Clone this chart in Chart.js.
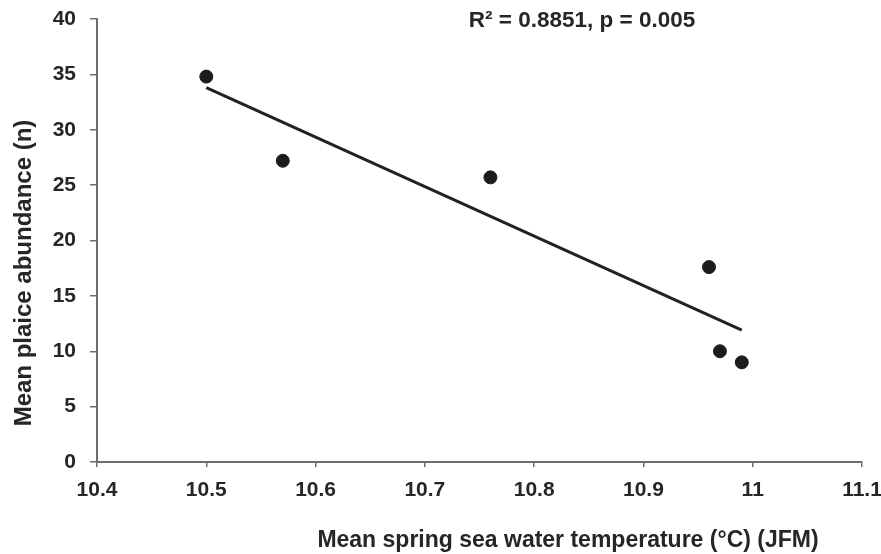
<!DOCTYPE html>
<html>
<head>
<meta charset="utf-8">
<script src="https://cdn.jsdelivr.net/npm/chart.js@4.4.0/dist/chart.umd.min.js"></script>
<style>
  html, body { margin: 0; padding: 0; background: #fff; }
  #wrap { width: 881px; height: 554px; position: relative; }
</style>
</head>
<body>
<div id="wrap"><canvas id="chart"></canvas></div>
<script>
// Дані з графіка
const temps = [10.5, 10.57, 10.76, 10.96, 10.97, 10.99];
const abundance = [34.8, 27.2, 25.7, 17.6, 10.0, 9.0];

// Лінія тренду (кінці)
const trendX = [10.5, 10.99];
const trendY = [33.8, 11.9];

const xTicks = [10.4, 10.5, 10.6, 10.7, 10.8, 10.9, 11.0, 11.1];
const yTicks = [0, 5, 10, 15, 20, 25, 30, 35, 40];

const xTitle = 'Mean spring sea water temperature (°C) (JFM)';
const yTitle = 'Mean plaice abundance (n)';
const statsText = 'R² = 0.8851, p = 0.005';

const FONT = '"Liberation Sans", Arial, sans-serif';
const TEXT = '#262626';
const AXIS = '#6e6e6e';

// Підписи осей та R² малюємо самі
const labelsPlugin = {
    id: 'labels',
    afterDraw(chart) {
        const c = chart.ctx;
        c.save();
        c.fillStyle = TEXT;
        c.textAlign = 'center';
        c.textBaseline = 'alphabetic';
        c.font = 'bold 23px ' + FONT;
        c.fillText(xTitle, 568, 547);

        c.save();
        c.translate(31, 273);
        c.rotate(-Math.PI / 2);
        c.font = 'bold 24px ' + FONT;
        c.fillText(yTitle, 0, 0);
        c.restore();

        c.font = 'bold 22.5px ' + FONT;
        c.fillText(statsText, 582, 27);
        c.restore();
    }
};

new Chart(document.getElementById('chart'), {
    type: 'scatter',
    data: {
        datasets: [
            {
                label: 'Abundance',
                data: temps.map((t, i) => ({ x: t, y: abundance[i] })),
                backgroundColor: '#1c1c1c',
                borderColor: '#1c1c1c',
                pointRadius: 6.5,
                pointHoverRadius: 6.5
            },
            {
                label: 'Trend',
                type: 'line',
                data: trendX.map((t, i) => ({ x: t, y: trendY[i] })),
                borderColor: '#222',
                borderWidth: 3,
                pointRadius: 0,
                fill: false
            }
        ]
    },
    options: {
        responsive: true,
        maintainAspectRatio: false,
        animation: false,
        layout: { padding: { top: 19, right: 19, left: 0, bottom: 0 } },
        plugins: {
            legend: { display: false },
            tooltip: { enabled: false }
        },
        scales: {
            x: {
                type: 'linear',
                min: 10.4,
                max: 11.1,
                afterBuildTicks: s => { s.ticks = xTicks.map(v => ({ value: v })); },
                afterFit: s => {
                    s.height = 92;
                    s.paddingLeft = 0;
                    s.paddingRight = 0;
                },
                grid: { drawOnChartArea: false, tickLength: 5, color: AXIS, lineWidth: 1.5 },
                border: { color: AXIS, width: 2 },
                ticks: {
                    color: TEXT,
                    padding: 11,
                    maxRotation: 0,
                    font: { family: FONT, size: 21, weight: 'bold' },
                    callback: v => Number(v.toFixed(1)).toString()
                }
            },
            y: {
                min: 0,
                max: 40,
                afterBuildTicks: s => { s.ticks = yTicks.map(v => ({ value: v })); },
                afterFit: s => {
                    s.width = 97;
                    s.paddingTop = 0;
                    s.paddingBottom = 0;
                },
                grid: { drawOnChartArea: false, tickLength: 7, color: AXIS, lineWidth: 1.5 },
                border: { color: AXIS, width: 2 },
                ticks: {
                    color: TEXT,
                    padding: 14,
                    font: { family: FONT, size: 21, weight: 'bold' }
                }
            }
        }
    },
    plugins: [labelsPlugin]
});
</script>
</body>
</html>
